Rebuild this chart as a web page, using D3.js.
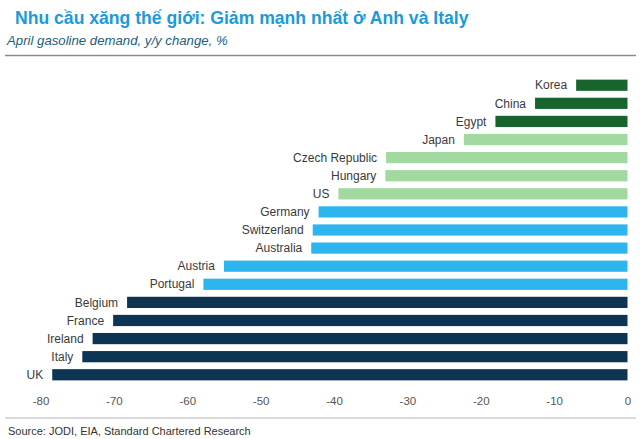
<!DOCTYPE html>
<html><head><meta charset="utf-8">
<script src="https://cdn.jsdelivr.net/npm/d3@7"></script>
<style>body{margin:0;background:#fff}svg{display:block}text{font-family:"Liberation Sans",Arial,sans-serif}</style>
</head><body><svg id="c" width="640" height="439"></svg>
<script>
const countries = ["Korea","China","Egypt","Japan","Czech Republic","Hungary","US","Germany","Switzerland","Australia","Austria","Portugal","Belgium","France","Ireland","Italy","UK"];
const values = [-7,-12.6,-18,-22.3,-32.9,-33,-39.4,-42.1,-42.9,-43.1,-55,-57.8,-68.2,-70.1,-72.9,-74.3,-78.4];
const groups = [0,0,0,1,1,1,1,2,2,2,2,2,3,3,3,3,3];
const groupColors = ["#17652c","#a2d9a0","#2db5ef","#0d3452"];
const ticks = [-80,-70,-60,-50,-40,-30,-20,-10,0];

const svg = d3.select("#c");
svg.append("text").attr("x",15).attr("y",24).attr("fill","#1c9ad8").attr("font-size",17.6).attr("font-weight","bold").text("Nhu cầu xăng thế giới: Giảm mạnh nhất ở Anh và Italy");
svg.append("text").attr("x",7).attr("y",45).attr("fill","#245e78").attr("font-size",13.2).attr("font-style","italic").text("April gasoline demand, y/y change, %");
svg.append("line").attr("x1",5).attr("x2",636).attr("y1",55.5).attr("y2",55.5).attr("stroke","#8a8a8a").attr("stroke-width",1.5);
svg.append("line").attr("x1",5).attr("x2",636).attr("y1",418).attr("y2",418).attr("stroke","#b5b5b5").attr("stroke-width",1.2);
svg.append("text").attr("x",8).attr("y",435).attr("fill","#333").attr("font-size",11).text("Source: JODI, EIA, Standard Chartered Research");

const x = d3.scaleLinear().domain([-80,0]).range([40.5,627.5]);
const y = d3.scaleBand().domain(countries).range([76,384]).paddingInner(0.38).paddingOuter(0.2);

const g = svg.append("g");
g.selectAll("rect").data(countries).join("rect")
  .attr("x",(d,i)=>x(values[i])).attr("width",(d,i)=>x(0)-x(values[i]))
  .attr("y",d=>y(d)).attr("height",y.bandwidth())
  .attr("fill",(d,i)=>groupColors[groups[i]]);
g.selectAll("text.lab").data(countries).join("text").attr("class","lab")
  .attr("x",(d,i)=>x(values[i])-9).attr("y",d=>y(d)+y.bandwidth()/2)
  .attr("dy","0.35em").attr("text-anchor","end").attr("font-size",12).attr("fill","#3a3a3a").text(d=>d);

const ax = svg.append("g").attr("transform","translate(0,394)")
  .call(d3.axisBottom(x).tickValues(ticks).tickSize(0).tickFormat(d=>String(d)));
ax.select(".domain").remove();
ax.selectAll("text").attr("font-size",11.5).attr("fill","#555").style("font-family","Liberation Sans, Arial, sans-serif");
</script></body></html>
